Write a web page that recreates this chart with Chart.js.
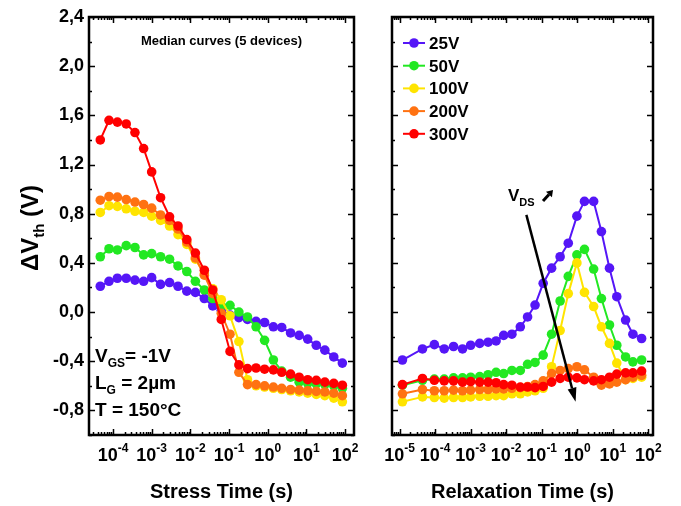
<!DOCTYPE html>
<html>
<head>
<meta charset="utf-8">
<script src="https://cdn.jsdelivr.net/npm/chart.js@4.4.0/dist/chart.umd.min.js"></script>
<style>
  html, body { margin: 0; padding: 0; background: #fff; }
  #wrap { position: relative; width: 681px; height: 506px; }
  #leftBox { position: absolute; left: 0; top: 0; width: 370px; height: 506px; }
  #rightBox { position: absolute; left: 370px; top: 0; width: 311px; height: 506px; }
</style>
</head>
<body>
<div id="wrap">
  <div id="leftBox"><canvas id="stressChart" width="370" height="506"></canvas></div>
  <div id="rightBox"><canvas id="relaxChart" width="311" height="506"></canvas></div>
</div>
<script>
// ---- data ----
const seriesLabels = ['25V', '50V', '100V', '200V', '300V'];
const seriesColors = ['#5516f7', '#22e822', '#ffe400', '#ff7212', '#ff0000'];

const stressTime = [4.7e-5, 7.9e-5, 1.3e-4, 2.2e-4, 3.7e-4, 6.2e-4, 1.0e-3, 1.7e-3, 2.9e-3, 4.8e-3,
  8.1e-3, 0.0135, 0.023, 0.038, 0.063, 0.106, 0.18, 0.30, 0.50, 0.83,
  1.4, 2.3, 3.9, 6.5, 10.8, 18, 30, 51, 85];
const stress25 = [0.21, 0.25, 0.275, 0.275, 0.26, 0.25, 0.28, 0.225, 0.24, 0.21,
  0.17, 0.16, 0.11, 0.05, 0.015, -0.025, -0.045, -0.06, -0.075, -0.085,
  -0.12, -0.125, -0.17, -0.19, -0.22, -0.27, -0.31, -0.365, -0.415];
const stress50 = [0.45, 0.515, 0.505, 0.54, 0.525, 0.465, 0.475, 0.45, 0.43, 0.375,
  0.33, 0.25, 0.18, 0.11, 0.05, 0.055, 0.0, -0.04, -0.12, -0.23,
  -0.39, -0.48, -0.53, -0.57, -0.58, -0.585, -0.59, -0.60, -0.62];
const stress100 = [0.81, 0.865, 0.86, 0.84, 0.82, 0.81, 0.78, 0.745, 0.70, 0.63,
  0.55, 0.43, 0.31, 0.19, 0.10, -0.03, -0.24, -0.55, -0.60, -0.61,
  -0.62, -0.63, -0.64, -0.65, -0.66, -0.67, -0.68, -0.70, -0.73];
const stress200 = [0.91, 0.94, 0.935, 0.915, 0.895, 0.875, 0.845, 0.79, 0.745, 0.675,
  0.57, 0.44, 0.30, 0.15, -0.01, -0.18, -0.49, -0.59, -0.59, -0.60,
  -0.61, -0.62, -0.63, -0.635, -0.64, -0.645, -0.65, -0.66, -0.68];
const stress300 = [1.40, 1.56, 1.545, 1.53, 1.46, 1.33, 1.14, 0.93, 0.775, 0.70,
  0.59, 0.48, 0.34, 0.18, -0.06, -0.32, -0.43, -0.46, -0.455, -0.465,
  -0.47, -0.49, -0.505, -0.53, -0.55, -0.555, -0.57, -0.58, -0.595];

const relaxTime = [1.2e-5, 4.4e-5, 9.5e-5, 1.8e-4, 3.3e-4, 5.9e-4, 1.0e-3, 1.8e-3, 3.1e-3, 5.2e-3,
  8.5e-3, 0.0145, 0.025, 0.04, 0.065, 0.11, 0.19, 0.33, 0.56, 0.98,
  1.6, 2.9, 4.8, 8.1, 13, 23, 37, 65];
const relax25 = [-0.39, -0.30, -0.265, -0.30, -0.28, -0.30, -0.27, -0.255, -0.245, -0.235,
  -0.19, -0.18, -0.12, -0.04, 0.057, 0.234, 0.357, 0.45, 0.56, 0.78,
  0.90, 0.90, 0.655, 0.357, 0.125, -0.065, -0.18, -0.215];
const relax50 = [-0.595, -0.555, -0.545, -0.545, -0.535, -0.535, -0.53, -0.525, -0.51, -0.49,
  -0.50, -0.475, -0.475, -0.425, -0.41, -0.35, -0.18, 0.09, 0.29, 0.465,
  0.51, 0.35, 0.11, -0.105, -0.27, -0.365, -0.405, -0.39];
const relax100 = [-0.73, -0.69, -0.695, -0.70, -0.695, -0.695, -0.69, -0.685, -0.685, -0.68,
  -0.68, -0.665, -0.665, -0.65, -0.64, -0.62, -0.445, -0.15, 0.15, 0.40,
  0.16, 0.045, -0.12, -0.255, -0.415, -0.55, -0.54, -0.53];
const relax200 = [-0.665, -0.63, -0.64, -0.64, -0.635, -0.64, -0.635, -0.63, -0.63, -0.625,
  -0.625, -0.62, -0.615, -0.605, -0.59, -0.56, -0.50, -0.475, -0.46, -0.445,
  -0.47, -0.53, -0.595, -0.585, -0.57, -0.55, -0.53, -0.515];
const relax300 = [-0.59, -0.54, -0.555, -0.56, -0.56, -0.57, -0.565, -0.57, -0.57, -0.575,
  -0.59, -0.595, -0.61, -0.61, -0.615, -0.605, -0.57, -0.54, -0.53, -0.535,
  -0.55, -0.56, -0.55, -0.53, -0.505, -0.495, -0.495, -0.48];

const yTickValues = [2.4, 2.0, 1.6, 1.2, 0.8, 0.4, 0.0, -0.4, -0.8];
const stressTickExp = ['-4', '-3', '-2', '-1', '0', '1', '2'];
const relaxTickExp = ['-5', '-4', '-3', '-2', '-1', '0', '1', '2'];

const FONT = '"Liberation Sans", Arial, sans-serif';

// ---- helpers ----
function richText(ctx, parts, x, y, align) {
    let total = 0;
    parts.forEach(p => {
        ctx.font = 'bold ' + p.size + 'px ' + FONT;
        p.w = ctx.measureText(p.text).width;
        total += p.w;
    });
    let cx = align === 'center' ? x - total / 2 : x;
    ctx.textAlign = 'left';
    ctx.textBaseline = 'alphabetic';
    parts.forEach(p => {
        ctx.font = 'bold ' + p.size + 'px ' + FONT;
        ctx.fillText(p.text, cx, y + (p.dy || 0));
        cx += p.w;
    });
}

function arrow(ctx, x1, y1, x2, y2, lw, headLen, headW) {
    const a = Math.atan2(y2 - y1, x2 - x1);
    const bx = x2 - headLen * Math.cos(a), by = y2 - headLen * Math.sin(a);
    ctx.lineWidth = lw;
    ctx.beginPath();
    ctx.moveTo(x1, y1);
    ctx.lineTo(bx, by);
    ctx.stroke();
    ctx.beginPath();
    ctx.moveTo(x2, y2);
    ctx.lineTo(bx + headW / 2 * Math.sin(a), by - headW / 2 * Math.cos(a));
    ctx.lineTo(bx - headW / 2 * Math.sin(a), by + headW / 2 * Math.cos(a));
    ctx.closePath();
    ctx.fill();
}

function makeDatasets(times, lists) {
    return lists.map((vals, i) => ({
        label: seriesLabels[i],
        data: times.map((t, j) => ({ x: t, y: vals[j] })),
        borderColor: seriesColors[i],
        backgroundColor: seriesColors[i],
        pointBackgroundColor: seriesColors[i],
        order: lists.length - i
    }));
}

// frame with inward ticks, x tick labels and x title
function panelDecor(tickExp, xTitle, extra) {
    return {
        id: 'panelDecor',
        afterDatasetsDraw(chart) {
            const ctx = chart.ctx;
            const { left, right, top, bottom } = chart.chartArea;
            const xs = chart.scales.x, ys = chart.scales.y;
            ctx.save();
            ctx.strokeStyle = '#000';
            ctx.fillStyle = '#000';
            ctx.lineWidth = 1.5;
            ctx.beginPath();
            const k0 = Math.floor(Math.log10(xs.min)), k1 = Math.ceil(Math.log10(xs.max));
            for (let k = k0; k <= k1; k++) {
                for (let m = 1; m <= 9; m++) {
                    const v = m * Math.pow(10, k);
                    if (v < xs.min || v > xs.max) continue;
                    const px = Math.round(xs.getPixelForValue(v)) + 0.5;
                    const len = m === 1 ? 6 : 3;
                    ctx.moveTo(px, bottom); ctx.lineTo(px, bottom - len);
                    ctx.moveTo(px, top); ctx.lineTo(px, top + len);
                }
            }
            for (let i = 0; i <= 17; i++) {
                const v = -1.0 + 0.2 * i;
                const py = Math.round(ys.getPixelForValue(v)) + 0.5;
                const len = i % 2 === 1 ? 6 : 3;
                ctx.moveTo(left, py); ctx.lineTo(left + len, py);
                ctx.moveTo(right, py); ctx.lineTo(right - len, py);
            }
            ctx.stroke();
            ctx.lineWidth = 2.5;
            ctx.strokeRect(left, top, right - left, bottom - top);

            // x tick labels 10^n
            tickExp.forEach(e => {
                const px = xs.getPixelForValue(Math.pow(10, Number(e)));
                richText(ctx, [
                    { text: '10', size: 18 },
                    { text: e, size: 12, dy: -9 }
                ], px, 461, 'center');
            });
            richText(ctx, [{ text: xTitle, size: 20 }], (left + right) / 2, 498, 'center');
            if (extra) extra(chart, ctx);
            ctx.restore();
        }
    };
}

function chartOptions(xMin, xMax, showY, pad) {
    return {
        responsive: false,
        animation: false,
        devicePixelRatio: 1,
        layout: { padding: pad },
        plugins: { legend: { display: false }, tooltip: { enabled: false } },
        elements: {
            line: { borderWidth: 2, tension: 0 },
            point: { radius: 4.8, borderWidth: 0, hoverRadius: 4.8 }
        },
        scales: {
            x: { type: 'logarithmic', min: xMin, max: xMax, display: false },
            y: {
                type: 'linear', min: -1.0, max: 2.4, display: showY,
                afterBuildTicks: s => { s.ticks = yTickValues.map(v => ({ value: v })); },
                afterFit: s => { s.width = showY ? 89 : 0; },
                ticks: {
                    color: '#000', padding: 5,
                    font: { family: FONT, weight: 'bold', size: 18 },
                    callback: v => v.toFixed(1).replace('.', ',')
                },
                grid: { display: false, drawTicks: false },
                border: { display: false }
            }
        }
    };
}

// ---- left panel: stress ----
new Chart(document.getElementById('stressChart').getContext('2d'), {
    type: 'line',
    data: { datasets: makeDatasets(stressTime, [stress25, stress50, stress100, stress200, stress300]) },
    options: chartOptions(2.4e-5, 170, true, { left: 0, top: 17, right: 16, bottom: 71 }),
    plugins: [panelDecor(stressTickExp, 'Stress Time (s)', (chart, ctx) => {
        const ca = chart.chartArea;
        richText(ctx, [{ text: 'Median curves (5 devices)', size: 13 }], (ca.left + ca.right) / 2, 45, 'center');
        const x0 = ca.left + 6;
        richText(ctx, [{ text: 'V', size: 19 }, { text: 'GS', size: 12, dy: 5 }, { text: '= -1V', size: 19 }], x0, 362);
        richText(ctx, [{ text: 'L', size: 19 }, { text: 'G', size: 12, dy: 5 }, { text: ' = 2\u00b5m', size: 19 }], x0, 389);
        richText(ctx, [{ text: 'T = 150\u00b0C', size: 19 }], x0, 416);
        // y axis title
        ctx.save();
        ctx.translate(38, 228);
        ctx.rotate(-Math.PI / 2);
        richText(ctx, [{ text: '\u0394V', size: 24 }, { text: 'th', size: 15, dy: 6 }, { text: ' (V)', size: 24 }], 0, 0, 'center');
        ctx.restore();
    })]
});

// ---- right panel: relaxation ----
new Chart(document.getElementById('relaxChart').getContext('2d'), {
    type: 'line',
    data: { datasets: makeDatasets(relaxTime, [relax25, relax50, relax100, relax200, relax300]) },
    options: chartOptions(6.1e-6, 136, false, { left: 22, top: 17, right: 28, bottom: 71 }),
    plugins: [panelDecor(relaxTickExp, 'Relaxation Time (s)', (chart, ctx) => {
        const ca = chart.chartArea;
        const xs = chart.scales.x, ys = chart.scales.y;
        // legend
        seriesLabels.forEach((lab, i) => {
            const cy = 43 + i * 22.7;
            ctx.strokeStyle = seriesColors[i];
            ctx.fillStyle = seriesColors[i];
            ctx.lineWidth = 2;
            ctx.beginPath();
            ctx.moveTo(ca.left + 11, cy); ctx.lineTo(ca.left + 33, cy);
            ctx.stroke();
            ctx.beginPath();
            ctx.arc(ca.left + 22, cy, 4.8, 0, Math.PI * 2);
            ctx.fill();
            ctx.fillStyle = '#000';
            richText(ctx, [{ text: lab, size: 17 }], ca.left + 37, cy + 6);
        });
        // V_DS arrow annotation
        ctx.strokeStyle = '#000';
        ctx.fillStyle = '#000';
        richText(ctx, [{ text: 'V', size: 17 }, { text: 'DS', size: 11, dy: 5 }], ca.left + 116, 201);
        arrow(ctx, ca.left + 151, 201, ca.left + 161, 190, 3, 6, 8);
        arrow(ctx, xs.getPixelForValue(0.037), ys.getPixelForValue(0.79),
            xs.getPixelForValue(0.9), ys.getPixelForValue(-0.73), 2.5, 14, 9);
    })]
});
</script>
</body>
</html>
